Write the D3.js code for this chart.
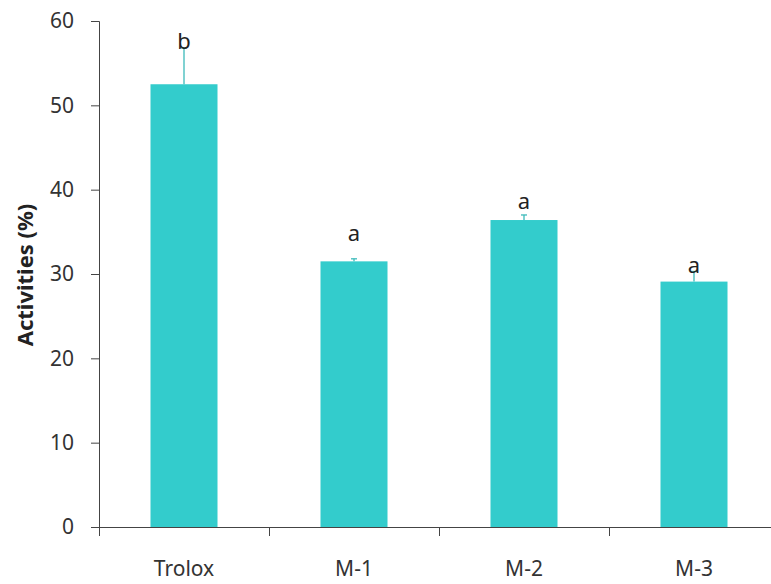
<!DOCTYPE html>
<html>
<head>
<meta charset="utf-8">
<script src="https://cdn.jsdelivr.net/npm/d3@7"></script>
<style>
  body { margin: 0; background: #fff; }
  svg text { font-family: "Noto Sans", "DejaVu Sans", sans-serif; fill: #222; }
</style>
</head>
<body>
<svg id="chart" width="771" height="584"></svg>
<script>
// data
const categories = ['Trolox', 'M-1', 'M-2', 'M-3'];
const values = [52.5, 31.5, 36.4, 29.1];
const errors = [4.3, 0.3, 0.6, 1.2];
const letters = ['b', 'a', 'a', 'a'];
const letterPos = [56.7, 33.9, 37.7, 30.1];
const yTicks = [0, 10, 20, 30, 40, 50, 60];

const svg = d3.select('#chart');
const plotLeft = 99, plotTop = 21, plotBottom = 527, plotRight = 779;

const x = d3.scaleBand()
  .domain(categories)
  .range([plotLeft, plotRight])
  .paddingInner(0)
  .paddingOuter(0);

const y = d3.scaleLinear()
  .domain([0, 60])
  .range([plotBottom, plotTop]);

const barW = 67;

// bars
svg.selectAll('.bar')
  .data(categories)
  .enter()
  .append('rect')
  .attr('class', 'bar')
  .attr('x', d => x(d) + x.bandwidth() / 2 - barW / 2)
  .attr('y', (d, i) => y(values[i]))
  .attr('width', barW)
  .attr('height', (d, i) => plotBottom - y(values[i]))
  .attr('fill', '#33cccc');

// error bars (upper only)
const err = svg.selectAll('.err')
  .data(categories)
  .enter()
  .append('g')
  .attr('class', 'err');
err.append('line')
  .attr('x1', d => x(d) + x.bandwidth() / 2)
  .attr('x2', d => x(d) + x.bandwidth() / 2)
  .attr('y1', (d, i) => y(values[i]))
  .attr('y2', (d, i) => y(values[i] + errors[i]))
  .attr('stroke', '#3cbaba')
  .attr('stroke-width', 1.3);
err.append('line')
  .attr('x1', d => x(d) + x.bandwidth() / 2 - 3)
  .attr('x2', d => x(d) + x.bandwidth() / 2 + 3)
  .attr('y1', (d, i) => y(values[i] + errors[i]))
  .attr('y2', (d, i) => y(values[i] + errors[i]))
  .attr('stroke', '#3cbaba')
  .attr('stroke-width', 1.3);

// significance letters
svg.selectAll('.letter')
  .data(categories)
  .enter()
  .append('text')
  .attr('class', 'letter')
  .attr('x', d => x(d) + x.bandwidth() / 2)
  .attr('y', (d, i) => y(letterPos[i]))
  .attr('text-anchor', 'middle')
  .attr('font-size', 22)
  .text((d, i) => letters[i]);

// y axis
const yAxis = svg.append('g')
  .attr('transform', `translate(${plotLeft},0)`)
  .call(d3.axisLeft(y).tickValues(yTicks).tickSize(8).tickPadding(17));
yAxis.selectAll('text').attr('font-size', 21).style('fill', '#333');

// x axis
const xAxis = svg.append('g')
  .attr('transform', `translate(0,${plotBottom})`)
  .call(d3.axisBottom(x).tickSize(0).tickPadding(34));
xAxis.select('.domain').attr('d', `M${plotLeft},0.5H${plotRight}`);
xAxis.selectAll('text').attr('font-size', 21).style('fill', '#333');
xAxis.selectAll('.cut')
  .data(categories)
  .enter()
  .append('line')
  .attr('class', 'cut')
  .attr('x1', d => x(d) + 0.5)
  .attr('x2', d => x(d) + 0.5)
  .attr('y1', 0)
  .attr('y2', 9)
  .attr('stroke', '#444');

svg.selectAll('.domain, .tick line').attr('stroke', '#444');

// axis title
svg.append('text')
  .attr('transform', `translate(33,${(plotTop + plotBottom) / 2 + 1}) rotate(-90)`)
  .attr('text-anchor', 'middle')
  .attr('font-size', 22)
  .attr('font-weight', 'bold')
  .text('Activities (%)');
</script>
</body>
</html>
